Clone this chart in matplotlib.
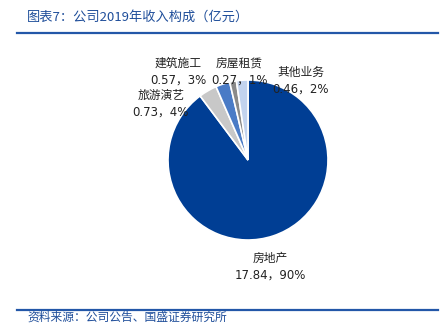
import numpy as np
import matplotlib.pyplot as plt
from matplotlib.lines import Line2D

plt.rcParams['font.family'] = ['Noto Sans CJK SC', 'DejaVu Sans']

# 2019 revenue breakdown (100 million yuan)
names = ["房地产", "旅游演艺", "建筑施工", "房屋租赁", "其他业务"]
values = [17.84, 0.73, 0.57, 0.27, 0.46]
pcts = ["90%", "4%", "3%", "1%", "2%"]
colors = ["#003E94", "#C8C8C8", "#4A7BC6", "#8A8A8A", "#C2D3EE"]

# label anchor (name line) in pie-radius units
label_pos = [(0.28, -1.23), (-1.09, 0.81), (-0.87, 1.21), (-0.11, 1.21), (0.66, 1.10)]

W, H = 445, 324
fig = plt.figure(figsize=(W / 100, H / 100), dpi=100)
ax = fig.add_axes([0, 0, 1, 1])

cx, cy, r = 248, 164, 80
ax.pie(values, colors=colors, startangle=90, counterclock=False, radius=1,
       wedgeprops=dict(edgecolor="white", linewidth=1.2))
ax.set_xlim(-cx / r, (W - cx) / r)
ax.set_ylim(-cy / r, (H - cy) / r)
ax.set_aspect("auto")
ax.axis("off")

num_font = ['DejaVu Sans', 'Noto Sans CJK SC']
for name, v, p, (lx, ly) in zip(names, values, pcts, label_pos):
    ax.text(lx, ly, name, ha="center", va="center", fontsize=8.5, color="#222222")
    ax.text(lx, ly - 0.21, f"{v:.2f}，{p}", ha="center", va="center",
            fontsize=8.5, color="#222222", family=num_font)

blue = "#2357A8"
fig.text(27 / W, 1 - 17 / H, "图表7：公司2019年收入构成（亿元）", fontsize=9.5,
         color="#1F4E9A", style="italic", va="center", ha="left", family=num_font[::-1])
fig.add_artist(Line2D([17 / W, 438 / W], [1 - 33 / H, 1 - 33 / H], color=blue, lw=1.6))
fig.add_artist(Line2D([17 / W, 438 / W], [1 - 310 / H, 1 - 310 / H], color=blue, lw=1.6))
fig.text(27 / W, 1 - 317.5 / H, "资料来源：公司公告、国盛证券研究所", fontsize=8.5,
         color="#1F4E9A", style="italic", va="center", ha="left")

fig.savefig("out.png", dpi=100)
